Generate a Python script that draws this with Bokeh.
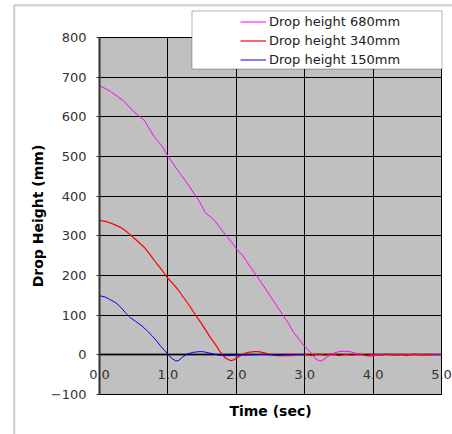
from bokeh.plotting import figure
from bokeh.models import (FixedTicker, NumeralTickFormatter, BoxAnnotation,
                          Legend, LegendItem, Range1d)
from bokeh.embed import file_html
from bokeh.resources import INLINE

# ---- data ----
t_680 = [0.0, 0.08, 0.16, 0.26, 0.36, 0.5, 0.65, 0.8, 0.92, 1.0, 1.1, 1.2, 1.3, 1.38,
         1.45, 1.55, 1.62, 1.67, 1.72, 1.79, 1.87, 1.95, 2.01, 2.09, 2.2, 2.31, 2.42,
         2.55, 2.67, 2.76, 2.84, 2.92, 2.99, 3.05, 3.11, 3.16, 3.21, 3.25, 3.28, 3.33,
         3.38, 3.44, 3.5, 3.56, 3.62, 3.69, 3.76, 3.82, 3.88, 3.95, 4.0, 4.05, 4.2,
         4.4, 4.6, 4.8, 5.0]
h_680 = [678, 672, 664, 652, 639, 613, 592, 550, 525, 501, 476, 452, 428, 407,
         390, 358, 348, 341, 330, 314, 297, 280, 265, 251, 223, 196, 168,
         134, 103, 80, 56, 39, 23, 12, 2, -10, -15, -15, -11, -5,
         0, 5, 8, 9, 9, 7, 3, 1, -1, -4, -3, 0, 1,
         0, 1, 0, 0]

t_340 = [0.0, 0.1, 0.21, 0.3, 0.4, 0.5, 0.65, 0.75, 0.84, 0.92, 1.0, 1.07, 1.14,
         1.24, 1.33, 1.4, 1.48, 1.55, 1.62, 1.7, 1.77, 1.84, 1.92, 1.97, 2.01, 2.06,
         2.11, 2.18, 2.26, 2.32, 2.38, 2.45, 2.52, 2.6, 2.7, 2.8, 2.9, 3.0, 3.1, 3.2,
         3.3, 3.4, 3.5, 3.6, 3.7, 3.8, 3.9, 4.0, 4.1, 4.2, 4.3, 4.4, 4.5, 4.6, 4.7,
         4.8, 4.88]
h_340 = [339, 336, 329, 322, 310, 295, 272, 250, 229, 212, 193, 180, 166,
         142, 120, 101, 82, 63, 44, 25, 6, -8, -15, -12, -7, -2,
         3, 6, 8, 8, 6, 3, 0, -2, -2, -2, 0, 1, -2, 2,
         -1, 2, -2, 1, -1, 2, -2, 1, -1, 2, -1, 1, -2, 2, -1,
         1, 0]

t_150 = [0.0, 0.08, 0.16, 0.24, 0.31, 0.38, 0.45, 0.53, 0.62, 0.7, 0.77, 0.83, 0.89,
         0.95, 1.0, 1.05, 1.11, 1.15, 1.18, 1.22, 1.28, 1.36, 1.45, 1.51, 1.57, 1.65,
         1.74, 1.82, 1.9, 2.0, 2.2, 2.4, 2.6, 2.8, 3.0]
h_150 = [149, 146, 139, 131, 120, 106, 94, 84, 73, 60, 48, 36, 23,
         11, 2, -8, -15, -15, -11, -5, 2, 6, 8, 8, 6, 3,
         -1, -2, -2, -1, 0, 1, -1, 1, 0]

series_labels = ["Drop height 680mm", "Drop height 340mm", "Drop height 150mm"]
series_colors = ["#FF00FF", "#FF0000", "#0000FF"]
x_ticks = [0, 1, 2, 3, 4, 5]
y_ticks = [-100, 0, 100, 200, 300, 400, 500, 600, 700, 800]
X_MIN, X_MAX = 0, 5
Y_MIN, Y_MAX = -100, 800

FONT = "DejaVu Sans"
W, H = 452, 434
# pixel layout of the plotting area inside the canvas
PL, PR, PT, PB = 99, 441, 37, 394
sx = (X_MAX - X_MIN) / (PR - PL)
sy = (Y_MAX - Y_MIN) / (PB - PT)
x_range = Range1d(X_MIN - PL * sx, X_MAX + (W - PR) * sx)
y_range = Range1d(Y_MIN - (H - PB) * sy, Y_MAX + PT * sy)

p = figure(width=W, height=H, output_backend="svg", toolbar_location=None,
           x_range=x_range, y_range=y_range, min_border=0)
p.background_fill_color = "white"
p.border_fill_color = "white"
p.outline_line_color = None

# outer chart frame (left + top lines)
shade = BoxAnnotation(left=14.5, right=2000, top=5.5, bottom=2000,
                      left_units="canvas", right_units="canvas",
                      top_units="canvas", bottom_units="canvas",
                      fill_alpha=0, line_color="#A8A8A8", line_width=1, level="image")
p.add_layout(shade)
outer = BoxAnnotation(left=13.5, right=2000, top=4.5, bottom=2000,
                      left_units="canvas", right_units="canvas",
                      top_units="canvas", bottom_units="canvas",
                      fill_alpha=0, line_color="black", line_width=1, level="image")
p.add_layout(outer)

# grey plotting area
area = BoxAnnotation(left=X_MIN, right=X_MAX, bottom=Y_MIN, top=Y_MAX,
                     fill_color="#C0C0C0", fill_alpha=1, line_color="#808080",
                     line_width=1, level="image")
p.add_layout(area)

# grids, limited to the plotting area
p.xgrid.ticker = FixedTicker(ticks=x_ticks)
p.ygrid.ticker = FixedTicker(ticks=y_ticks)
p.xgrid.cross_bounds = (Y_MIN, Y_MAX)
p.ygrid.cross_bounds = (X_MIN, X_MAX)
p.xgrid.grid_line_color = "black"
p.ygrid.grid_line_color = "black"

# axes
xa = p.xaxis[0]
xa.fixed_location = 0
xa.bounds = (X_MIN, X_MAX)
xa.level = "underlay"
xa.ticker = FixedTicker(ticks=x_ticks)
xa.formatter = NumeralTickFormatter(format="0.0")
xa.axis_line_color = "#333333"
xa.axis_line_width = 2
xa.major_tick_out = 3
xa.major_tick_in = 0
xa.major_tick_line_color = "#333333"
xa.minor_tick_line_color = None
xa.major_label_standoff = 12
xa.major_label_text_font = FONT
xa.major_label_text_font_size = "13px"
xa.major_label_text_color = "#333333"
xa.axis_label = "Time (sec)"
xa.axis_label_text_font = FONT
xa.axis_label_text_font_size = "14px"
xa.axis_label_text_font_style = "bold"
xa.axis_label_text_color = "black"
xa.axis_label_standoff = 21

ya = p.yaxis[0]
ya.fixed_location = 0
ya.bounds = (Y_MIN, Y_MAX)
ya.ticker = FixedTicker(ticks=y_ticks)
ya.axis_line_color = "#333333"
ya.axis_line_width = 2
ya.major_tick_out = 3
ya.major_tick_in = 0
ya.major_tick_line_color = "#333333"
ya.minor_tick_line_color = None
ya.major_label_standoff = 10
ya.major_label_text_font = FONT
ya.major_label_text_font_size = "13px"
ya.major_label_text_color = "#333333"
ya.axis_label = "Drop Height (mm)"
ya.axis_label_text_font = FONT
ya.axis_label_text_font_size = "14px"
ya.axis_label_text_font_style = "bold"
ya.axis_label_text_color = "black"
ya.axis_label_standoff = 2

# lines
r1 = p.line(t_680, h_680, line_color=series_colors[0], line_width=1)
r2 = p.line(t_340, h_340, line_color=series_colors[1], line_width=1.2)
r3 = p.line(t_150, h_150, line_color=series_colors[2], line_width=1)

# legend box
lbox = BoxAnnotation(left=191.5, right=441.5, top=10.5, bottom=68.5,
                     left_units="canvas", right_units="canvas",
                     top_units="canvas", bottom_units="canvas",
                     fill_color="white", fill_alpha=1, line_color="black",
                     line_width=1)
p.add_layout(lbox)

legend = Legend(items=[LegendItem(label=series_labels[0], renderers=[r1]),
                       LegendItem(label=series_labels[1], renderers=[r2]),
                       LegendItem(label=series_labels[2], renderers=[r3])],
                location=(240, H - 69), glyph_width=26, glyph_height=19,
                label_height=19, label_standoff=3, spacing=0, padding=0, margin=0,
                background_fill_alpha=0, border_line_color=None,
                label_text_font=FONT, label_text_font_size="13px",
                label_text_color="#222222", level="overlay")
p.add_layout(legend)

open("out.html", "w").write(file_html(p, INLINE))
